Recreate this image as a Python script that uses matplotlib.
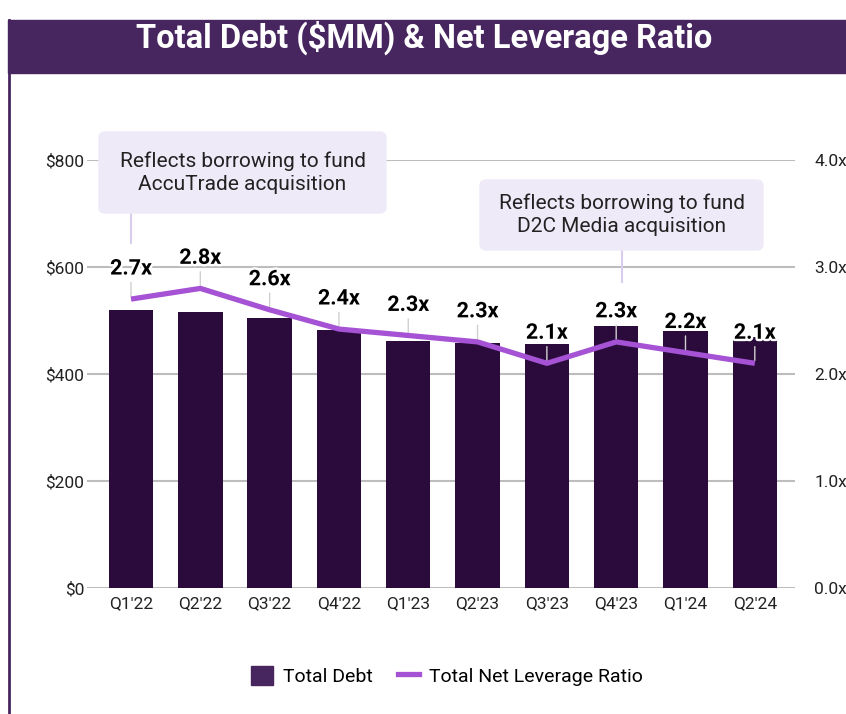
import matplotlib.pyplot as plt
import matplotlib.patheffects as pe
from matplotlib.patches import FancyBboxPatch, Rectangle
from matplotlib.lines import Line2D

# DATA
quarters = ["Q1'22", "Q2'22", "Q3'22", "Q4'22", "Q1'23", "Q2'23", "Q3'23", "Q4'23", "Q1'24", "Q2'24"]
total_debt = [520, 516, 505, 482, 462, 458, 456, 490, 480, 469]
leverage = [2.7, 2.8, 2.6, 2.42, 2.36, 2.3, 2.1, 2.3, 2.2, 2.1]
leverage_labels = ["2.7x", "2.8x", "2.6x", "2.4x", "2.3x", "2.3x", "2.1x", "2.3x", "2.2x", "2.1x"]
debt_ticks = [0, 200, 400, 600, 800]
ratio_ticks = [0.0, 1.0, 2.0, 3.0, 4.0]

BAR = "#2a0b3c"
LEGEND_BAR = "#472660"
LINE = "#a552d4"
GRID = "#bdbdbd"
BOX = "#efeaf8"
HEADER = "#472660"

plt.rcParams['font.family'] = ['Roboto', 'DejaVu Sans']

W, H = 846, 714
fig = plt.figure(figsize=(W/100, H/100), dpi=100)

def fx(px): return px / W
def fy(py): return 1 - py / H

# header bar + left border
fig.patches.append(Rectangle((fx(8), fy(73)), 1, (73-20)/H, transform=fig.transFigure,
                             color=HEADER, zorder=0))
fig.add_artist(Line2D([fx(9), fx(9)], [0, fy(20)], color=HEADER, lw=2))
fig.text(fx(424), fy(38), "Total Debt ($MM) & Net Leverage Ratio", color="white",
         fontsize=23.5, fontweight="bold", ha="center", va="center")

ax = fig.add_axes([fx(87), fy(588), fx(795)-fx(87), (588-160)/H])
x = list(range(len(quarters)))
ax.bar(x, total_debt, width=0.64, color=BAR, zorder=2)
ax.set_ylim(0, 800)
ax.set_xlim(-0.635, 9.58)
ax.set_yticks(debt_ticks)
ax.set_yticklabels(["$%d" % v for v in debt_ticks])
ax.grid(axis="y", color=GRID, lw=1.5, zorder=0)
ax.set_axisbelow(True)
for s in ax.spines.values():
    s.set_visible(False)
ax.tick_params(length=0, labelsize=12.5, colors="#222222", pad=6)
ax.set_xticks(x)
ax.set_xticklabels(quarters)
ax.tick_params(axis="y", pad=2)

ax2 = ax.twinx()
ax2.set_ylim(0, 4)
ax2.set_yticks(ratio_ticks)
ax2.set_yticklabels(["%.1fx" % v for v in ratio_ticks])
for s in ax2.spines.values():
    s.set_visible(False)
ax2.tick_params(length=0, labelsize=12.5, colors="#222222", pad=14)
ax2.plot(x, leverage, color=LINE, lw=3.8, zorder=4, solid_capstyle="butt")

for xi, v, lab in zip(x, leverage, leverage_labels):
    ax2.annotate(lab, (xi, v), xytext=(0, 22), textcoords="offset points",
                 ha="center", va="center", fontsize=15.5, fontweight="bold", color="black",
                 zorder=6, path_effects=[pe.withStroke(linewidth=3.5, foreground="white")])
    ax2.annotate("", (xi, v), xytext=(0, 14), textcoords="offset points",
                 arrowprops=dict(arrowstyle="-", color="#d0d0d0", lw=1), zorder=3)

# callout boxes
def callout(x0, y0, x1, y1, text, lead_x, lead_y):
    fig.patches.append(FancyBboxPatch((fx(x0), fy(y1)), fx(x1)-fx(x0), (y1-y0)/H,
                                      boxstyle="round,pad=0,rounding_size=0.008",
                                      transform=fig.transFigure, color=BOX, zorder=5))
    fig.add_artist(Line2D([fx(lead_x), fx(lead_x)], [fy(y1), fy(lead_y)], color="#d8cdef", lw=1.5))
    fig.text(fx((x0+x1)/2), fy((y0+y1)/2), text, ha="center", va="center",
             fontsize=15, color="#222222", linespacing=1.25, zorder=6)

callout(99, 132, 386, 213, "Reflects borrowing to fund\nAccuTrade acquisition", 131, 243)
callout(480, 180, 763, 250, "Reflects borrowing to fund\nD2C Media acquisition", 622, 282)

# legend
handles = [Rectangle((0, 0), 1, 1, color=LEGEND_BAR),
           Line2D([0], [0], color=LINE, lw=3.8)]
fig.legend(handles, ["Total Debt", "Total Net Leverage Ratio"], loc="center",
           bbox_to_anchor=(fx(447), fy(676)), ncol=2, frameon=False, fontsize=14,
           handlelength=1.1, handleheight=1.1, columnspacing=1.3, handletextpad=0.5)

fig.savefig("out.png", dpi=100)
